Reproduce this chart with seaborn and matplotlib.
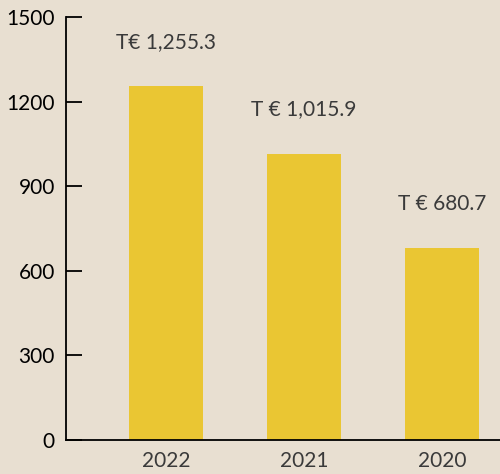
import matplotlib
matplotlib.use("Agg")
import matplotlib.pyplot as plt
import seaborn as sns
import pandas as pd

# -------------------------------
# Data
years = ["2022", "2021", "2020"]
values = [1255.3, 1015.9, 680.7]
labels = ["T€ 1,255.3", "T € 1,015.9", "T € 680.7"]
yticks = [0, 300, 600, 900, 1200, 1500]

bg = "#e8dfd1"
bar_color = "#eac633"

sns.set_style("white")
plt.rcParams["font.family"] = ["Lato", "DejaVu Sans"]

df = pd.DataFrame({"year": years, "value": values})

fig = plt.figure(figsize=(5, 4.74), dpi=100, facecolor=bg)
ax = fig.add_axes([0.132, 0.0717, 0.868, 0.8923])
ax.set_facecolor(bg)

sns.barplot(data=df, x="year", y="value", order=years, color=bar_color,
            width=0.54, saturation=1, linewidth=0, ax=ax)

# value labels above bars
for i, (v, lab) in enumerate(zip(values, labels)):
    ax.annotate(lab, (i, v), xytext=(0, 32), textcoords="offset points",
                ha="center", va="center", fontsize=15, color="#3a3a3a")

ax.set_xlim(-0.725, 2.42)
ax.set_ylim(0, 1500)
ax.set_yticks(yticks)
ax.set_xlabel("")
ax.set_ylabel("")

for s in ["top", "right"]:
    ax.spines[s].set_visible(False)
for s in ["left", "bottom"]:
    ax.spines[s].set_color("black")
    ax.spines[s].set_linewidth(1.3)

ax.tick_params(axis="y", direction="in", length=11.5, width=1.3, pad=8,
               labelsize=15, colors="black", left=True)
ax.tick_params(axis="x", length=0, pad=8, labelsize=15, labelcolor="#3a3a3a")
ax.yaxis.get_major_ticks()[0].tick1line.set_color("white")

fig.savefig("out.png", dpi=100, facecolor=bg)
